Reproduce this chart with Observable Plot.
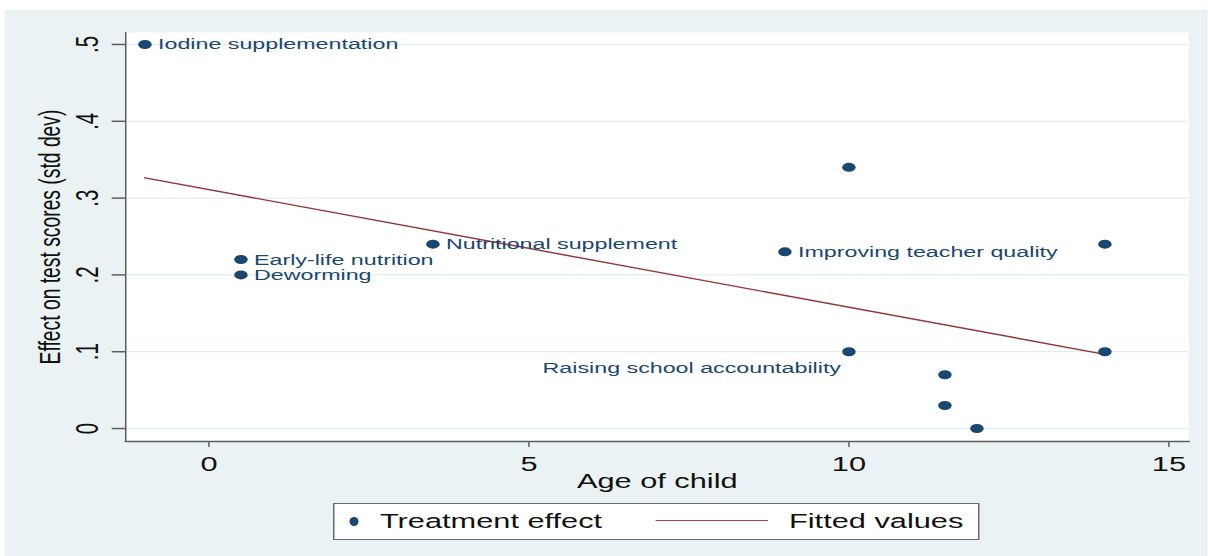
<!DOCTYPE html>
<html>
<head>
<meta charset="utf-8">
<script src="https://cdn.jsdelivr.net/npm/d3@7"></script>
<script src="https://cdn.jsdelivr.net/npm/@observablehq/plot@0.6"></script>
<style>
html, body { margin: 0; padding: 0; background: #ffffff; width: 1208px; height: 556px; overflow: hidden; }
#wrap { position: absolute; left: 0; top: 0; width: 805.333px; height: 556px; transform: scaleX(1.5); transform-origin: 0 0; font-family: "Liberation Sans", Arial, sans-serif; }
#panel { position: absolute; left: 3.333px; top: 10px; right: 0; bottom: 0; background: #eaf2f3; }
#chart { position: absolute; left: 0; top: 0; }
#legend { position: absolute; left: 222px; top: 503px; width: 431.3px; height: 37px; box-sizing: border-box; border-style: solid; border-color: #6a6a6a; border-width: 1.5px 1px; background: #ffffff; }
#legend .dot { position: absolute; left: 9.7px; top: 12.5px; width: 6px; height: 9px; border-radius: 50%; }
#legend .txt { position: absolute; top: 0; line-height: 34px; font-size: 20.5px; color: #111; white-space: nowrap; }
#legend .line { position: absolute; left: 214.7px; top: 16px; width: 75.3px; height: 0; border-top: 1.6px solid #a2474d; }
</style>
</head>
<body>
<div id="wrap">
  <div id="panel"></div>
  <div id="chart"></div>
  <div id="legend"></div>
</div>
<script>
// ---- data ----
const ages    = [-1, 0.5, 0.5, 3.5, 9, 10, 10, 11.5, 11.5, 12, 14, 14];
const effects = [0.5, 0.22, 0.2, 0.24, 0.23, 0.34, 0.1, 0.07, 0.03, 0, 0.24, 0.1];
const labels  = ["Iodine supplementation", "Early-life nutrition", "Deworming", "Nutritional supplement",
                 "Improving teacher quality", "", "Raising school accountability", "", "", "", "", ""];
const xTicks = [0, 5, 10, 15];
const xTickLabels = ["0", "5", "10", "15"];
const yTicks = [0, 0.1, 0.2, 0.3, 0.4, 0.5];
const yTickLabels = ["0", ".1", ".2", ".3", ".4", ".5"];
const xTitle = "Age of child";
const yTitle = "Effect on test scores (std dev)";
const seriesNames = ["Treatment effect", "Fitted values"];

const navy = "#1a476f";
const maroon = "#90353b";
const axisGray = "#5e5e5e";
const leftLabel = "Raising school accountability";

const data = ages.map((a, i) => ({age: a, effect: effects[i], label: labels[i]}));

const chart = Plot.plot({
  width: 805,
  height: 490,
  marginLeft: 83.33,
  marginRight: 13,
  marginTop: 32,
  marginBottom: 49,
  style: {background: "transparent", fontFamily: "'Liberation Sans', Arial, sans-serif", fontSize: "20.5px", overflow: "visible", color: "#111"},
  x: {domain: [-1.3, 15.31]},
  y: {domain: [-0.0169, 0.5156]},
  marks: [
    Plot.frame({fill: "white", stroke: null}),
    Plot.gridY(yTicks, {stroke: "#e2ecef", strokeOpacity: 1, strokeWidth: 1.3}),
    Plot.linearRegressionY(data, {x: "age", y: "effect", ci: 0, stroke: maroon, strokeWidth: 1.4}),
    Plot.dot(data, {x: "age", y: "effect", r: 4.5, fill: navy, stroke: null}),
    Plot.text(data.filter(d => d.label && d.label !== leftLabel), {
      x: "age", y: "effect", text: "label", textAnchor: "start", lineAnchor: "middle",
      dx: 8.7, fill: navy, fontSize: 15.5
    }),
    Plot.text(data.filter(d => d.label === leftLabel), {
      x: "age", y: "effect", text: "label", textAnchor: "end", lineAnchor: "middle",
      dx: -5.3, dy: 16, fill: navy, fontSize: 15.5
    }),
    Plot.frame({anchor: "left", stroke: axisGray, strokeWidth: 1}),
    Plot.frame({anchor: "bottom", stroke: axisGray, strokeWidth: 1.5}),
    Plot.axisX(xTicks, {tickSize: 6, tickPadding: 9, tickFormat: (d, i) => xTickLabels[i], label: null, stroke: axisGray, strokeWidth: 1, fill: "#111"}),
    Plot.axisY(yTicks, {tickSize: 8.9, tickFormat: () => "", label: null, stroke: axisGray, strokeWidth: 1.5, fill: "none"}),
    Plot.text(yTicks, {y: d => d, text: yTickLabels, frameAnchor: "left", dx: -24.8, rotate: -90, textAnchor: "middle", lineAnchor: "middle", fill: "#111"}),
    Plot.text([xTitle], {text: d => d, frameAnchor: "bottom", dy: 39.5, textAnchor: "middle", lineAnchor: "middle", fill: "#111"}),
    Plot.text([yTitle], {text: d => d, frameAnchor: "left", dx: -49.7, rotate: -90, textAnchor: "middle", lineAnchor: "middle", fill: "#111", fontSize: 19.3})
  ]
});
document.getElementById("chart").appendChild(chart);

// legend (below the plot region, inside the graph region)
const legend = document.getElementById("legend");
const dot = document.createElement("div");
dot.className = "dot"; dot.style.background = navy;
legend.appendChild(dot);
const t1 = document.createElement("div");
t1.className = "txt"; t1.style.left = "30.3px"; t1.textContent = seriesNames[0];
legend.appendChild(t1);
const ln = document.createElement("div");
ln.className = "line"; ln.style.left = "213.7px";
legend.appendChild(ln);
const t2 = document.createElement("div");
t2.className = "txt"; t2.style.left = "303px"; t2.textContent = seriesNames[1];
legend.appendChild(t2);
</script>
</body>
</html>
